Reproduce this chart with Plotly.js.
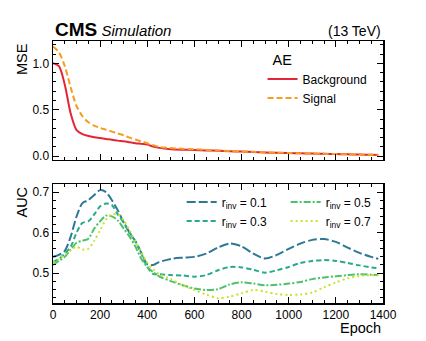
<!DOCTYPE html>
<html>
<head>
<meta charset="utf-8">
<script src="https://cdn.plot.ly/plotly-3.0.1.min.js"></script>
<style>html,body{margin:0;padding:0;background:#fff;}#chart{width:426px;height:341px;}</style>
</head>
<body>
<div id="chart"></div>
<script>
const epochs = [0,25,50,75,100,125,150,175,200,225,250,275,300,325,350,375,400,425,450,500,550,600,650,700,750,800,850,900,950,1000,1050,1100,1150,1200,1250,1300,1350,1380];

const mseBackground = [1.0,0.97,0.77,0.46,0.28,0.237,0.218,0.205,0.195,0.186,0.178,0.168,0.16,0.15,0.14,0.133,0.125,0.105,0.09,0.075,0.07,0.068,0.063,0.058,0.054,0.05,0.045,0.04,0.037,0.034,0.031,0.029,0.026,0.024,0.021,0.018,0.015,0.014];
const mseSignal = [1.18,1.12,0.97,0.74,0.54,0.43,0.365,0.33,0.305,0.285,0.265,0.245,0.225,0.2,0.18,0.16,0.14,0.12,0.10,0.088,0.08,0.075,0.068,0.062,0.056,0.051,0.047,0.042,0.038,0.035,0.032,0.029,0.026,0.024,0.021,0.018,0.016,0.015];

const aucR01 = [0.54,0.545,0.555,0.59,0.64,0.673,0.68,0.693,0.705,0.70,0.68,0.655,0.625,0.60,0.578,0.55,0.522,0.52,0.527,0.535,0.538,0.54,0.548,0.563,0.573,0.566,0.548,0.536,0.545,0.56,0.573,0.582,0.584,0.577,0.563,0.55,0.54,0.535];
const aucR03 = [0.527,0.535,0.548,0.565,0.60,0.624,0.628,0.645,0.665,0.672,0.668,0.645,0.625,0.60,0.578,0.548,0.515,0.498,0.497,0.495,0.494,0.491,0.495,0.507,0.515,0.514,0.508,0.501,0.507,0.515,0.525,0.53,0.532,0.53,0.525,0.519,0.514,0.512];
const aucR05 = [0.52,0.53,0.54,0.558,0.575,0.58,0.585,0.61,0.628,0.642,0.64,0.63,0.61,0.59,0.565,0.535,0.515,0.502,0.492,0.48,0.47,0.462,0.458,0.46,0.472,0.477,0.474,0.47,0.471,0.474,0.478,0.485,0.489,0.492,0.495,0.497,0.496,0.495];
const aucR07 = [0.525,0.535,0.545,0.556,0.565,0.558,0.56,0.58,0.606,0.632,0.645,0.645,0.63,0.605,0.578,0.55,0.525,0.51,0.498,0.485,0.47,0.458,0.447,0.438,0.442,0.45,0.458,0.454,0.448,0.446,0.447,0.452,0.465,0.477,0.487,0.493,0.495,0.494];

const mseLabels = ['Background','Signal'];
const rinvLabels = ['r<sub>inv</sub> = 0.1','r<sub>inv</sub> = 0.3','r<sub>inv</sub> = 0.5','r<sub>inv</sub> = 0.7'];
const xTickVals = [0,200,400,600,800,1000,1200,1400];

const FONT = 'Liberation Sans, Arial, Helvetica, sans-serif';

const traces = [
  {x: epochs, y: mseBackground, name: mseLabels[0], mode:'lines', line:{color:'#e42536', width:2, shape:'spline', smoothing:0.8}, xaxis:'x', yaxis:'y', legend:'legend'},
  {x: epochs, y: mseSignal, name: mseLabels[1], mode:'lines', line:{color:'#f89c20', width:2, dash:'6px,3px', shape:'spline', smoothing:0.8}, xaxis:'x', yaxis:'y', legend:'legend'},
  {x: epochs, y: aucR01, name: rinvLabels[0], mode:'lines', line:{color:'#2f7895', width:2, dash:'9px,3px', shape:'spline', smoothing:0.8}, xaxis:'x2', yaxis:'y2', legend:'legend2'},
  {x: epochs, y: aucR03, name: rinvLabels[1], mode:'lines', line:{color:'#27a98a', width:2, dash:'5px,3px', shape:'spline', smoothing:0.8}, xaxis:'x2', yaxis:'y2', legend:'legend2'},
  {x: epochs, y: aucR05, name: rinvLabels[2], mode:'lines', line:{color:'#4cc36a', width:2, dash:'7px,2px,2px,2px', shape:'spline', smoothing:0.8}, xaxis:'x2', yaxis:'y2', legend:'legend3'},
  {x: epochs, y: aucR07, name: rinvLabels[3], mode:'lines', line:{color:'#c9e22e', width:2, dash:'2px,3px', shape:'spline', smoothing:0.8}, xaxis:'x2', yaxis:'y2', legend:'legend3'}
];

const axisCommon = {
  showline:true, linecolor:'#000', linewidth:1.5, mirror:'ticks',
  ticks:'inside', ticklen:6, tickwidth:1, tickcolor:'#000',
  showgrid:false, zeroline:false,
  tickfont:{family:FONT, size:12, color:'#000'}
};

const layout = {
  width:426, height:341,
  margin:{l:53, r:43, t:41, b:38},
  paper_bgcolor:'#fff', plot_bgcolor:'#fff',
  font:{family:FONT, color:'#000', size:12},
  xaxis: Object.assign({}, axisCommon, {domain:[0,1], range:[0,1400], anchor:'y', matches:'x2', tickvals:xTickVals, showticklabels:false,
    minor:{ticks:'inside', dtick:50, ticklen:3, tickcolor:'#000'}}),
  yaxis: Object.assign({}, axisCommon, {domain:[0.546,1], range:[-0.04,1.24], anchor:'x', tickvals:[0,0.5,1.0], tickformat:'.1f',
    minor:{ticks:'inside', dtick:0.1, ticklen:3, tickcolor:'#000'}}),
  xaxis2: Object.assign({}, axisCommon, {domain:[0,1], range:[0,1400], anchor:'y2', tickvals:xTickVals,
    minor:{ticks:'inside', dtick:50, ticklen:3, tickcolor:'#000'}}),
  yaxis2: Object.assign({}, axisCommon, {domain:[0,0.454], range:[0.426,0.72], anchor:'x2', tickvals:[0.5,0.6,0.7], tickformat:'.1f',
    minor:{ticks:'inside', dtick:0.02, ticklen:3, tickcolor:'#000'}}),
  legend:{x:0.635, y:0.982, xanchor:'left', yanchor:'top', bgcolor:'rgba(0,0,0,0)', font:{family:FONT, size:12},
    title:{text:'&nbsp;&nbsp;AE', font:{family:FONT, size:14.5}}, tracegroupgap:0},
  legend2:{x:0.39, y:0.441, xanchor:'left', yanchor:'top', bgcolor:'rgba(0,0,0,0)', font:{family:FONT, size:12}},
  legend3:{x:0.705, y:0.441, xanchor:'left', yanchor:'top', bgcolor:'rgba(0,0,0,0)', font:{family:FONT, size:12}},
  showlegend:true,
  annotations:[
    {xref:'paper', yref:'paper', x:0, y:1, xanchor:'left', yanchor:'bottom', yshift:-1, showarrow:false,
      text:'<span style="font-size:19px"><b>CMS</b></span><span style="font-size:15px"><i> Simulation</i></span>', font:{family:FONT, color:'#000'}},
    {xref:'paper', yref:'paper', x:1, y:1, xanchor:'right', yanchor:'bottom', yshift:0, showarrow:false,
      text:'(13 TeV)', font:{family:FONT, size:14, color:'#000'}},
    {xref:'paper', yref:'paper', x:-0.094, y:1, xanchor:'center', yanchor:'top', textangle:-90, showarrow:false,
      text:'MSE', font:{family:FONT, size:14.5, color:'#000'}},
    {xref:'paper', yref:'paper', x:-0.094, y:0.454, xanchor:'center', yanchor:'top', textangle:-90, showarrow:false,
      text:'AUC', font:{family:FONT, size:14.5, color:'#000'}},
    {xref:'paper', yref:'paper', x:1, y:-0.095, xanchor:'right', yanchor:'middle', showarrow:false,
      text:'Epoch', font:{family:FONT, size:14.5, color:'#000'}}
  ]
};

Plotly.newPlot('chart', traces, layout, {displayModeBar:false, staticPlot:true});
</script>
</body>
</html>
